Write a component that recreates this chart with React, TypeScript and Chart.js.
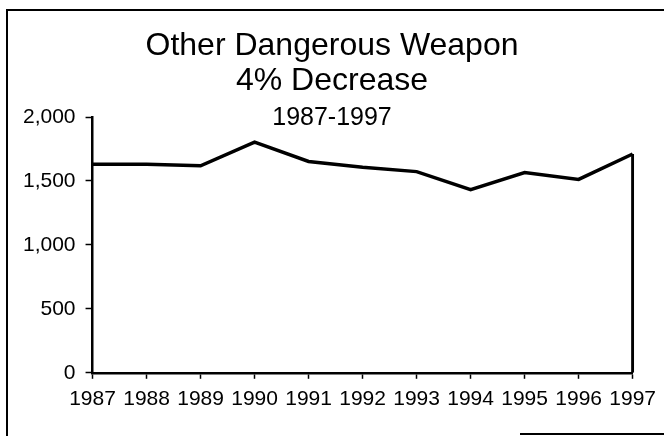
import React, { useEffect, useRef } from "react";
import { Chart, registerables } from "chart.js";

Chart.register(...registerables);

const years = ["1987", "1988", "1989", "1990", "1991", "1992", "1993", "1994", "1995", "1996", "1997"];
const incidents = [1631, 1630, 1618, 1804, 1652, 1607, 1573, 1432, 1565, 1512, 1711];
const yTicks = [0, 500, 1000, 1500, 2000];
const titleLines = ["Other Dangerous Weapon", "4% Decrease"];
const subtitleText = "1987-1997";

const FONT = "'Liberation Sans', Arial, Helvetica, sans-serif";

const titlePlugin = {
  id: "scanTitle",
  afterDraw(chart: any) {
    const ctx = chart.ctx;
    const cx = chart.width / 2;
    ctx.save();
    ctx.fillStyle = "#000";
    ctx.textAlign = "center";
    ctx.textBaseline = "middle";
    ctx.font = `32px ${FONT}`;
    ctx.fillText(titleLines[0], cx, 46);
    ctx.fillText(titleLines[1], cx, 81);
    ctx.font = `25px ${FONT}`;
    ctx.fillText(subtitleText, cx, 118);
    ctx.restore();
  },
};

export default function App() {
  const ref = useRef<HTMLCanvasElement | null>(null);

  useEffect(() => {
    if (!ref.current) return;
    const last = years.length - 1;
    const chart = new Chart(ref.current, {
      type: "line",
      data: {
        labels: years,
        datasets: [
          {
            label: "Other Dangerous Weapon",
            data: incidents,
            borderColor: "#000",
            borderWidth: 3.5,
            borderJoinStyle: "miter",
            pointRadius: 0,
            tension: 0,
            fill: false,
          },
          {
            label: "edge",
            data: [
              { x: years[last], y: 0 },
              { x: years[last], y: incidents[last] },
            ],
            borderColor: "#000",
            borderWidth: 3,
            pointRadius: 0,
            fill: false,
          },
        ],
      },
      options: {
        responsive: false,
        animation: false,
        devicePixelRatio: 1,
        layout: { padding: { left: 13, right: 31, top: 117, bottom: 16 } },
        plugins: {
          legend: { display: false },
          title: { display: false },
          tooltip: { enabled: false },
        },
        scales: {
          x: {
            type: "category",
            offset: false,
            grid: {
              display: true,
              drawOnChartArea: false,
              drawTicks: true,
              tickLength: 6,
              tickWidth: 1.5,
              tickColor: "#000",
              offset: false,
            },
            border: { display: true, color: "#000", width: 2.5 },
            ticks: {
              color: "#000",
              font: { family: FONT, size: 21 },
              padding: 8,
              maxRotation: 0,
              autoSkip: false,
            },
          },
          y: {
            min: 0,
            max: 2000,
            afterBuildTicks(scale: any) {
              scale.ticks = yTicks.map((v) => ({ value: v }));
            },
            grid: {
              display: true,
              drawOnChartArea: false,
              drawTicks: true,
              tickLength: 7,
              tickWidth: 1.5,
              tickColor: "#000",
            },
            border: { display: true, color: "#000", width: 2.5 },
            ticks: {
              color: "#000",
              font: { family: FONT, size: 21 },
              padding: 10,
              callback: (v: any) => Number(v).toLocaleString("en-US"),
            },
          },
        },
      },
      plugins: [titlePlugin],
    });
    return () => chart.destroy();
  }, []);

  return (
    <div style={{ position: "fixed", left: 0, top: 0, width: 664, height: 436, background: "#fff" }}>
      <canvas ref={ref} width={664} height={436} style={{ position: "absolute", left: 0, top: 0 }} />
      <div style={{ position: "absolute", left: 6, top: 9, width: 2, height: 427, background: "#000" }} />
      <div style={{ position: "absolute", left: 6, top: 9, width: 658, height: 2, background: "#000" }} />
      <div style={{ position: "absolute", left: 520, top: 433, width: 144, height: 2, background: "#000" }} />
    </div>
  );
}
